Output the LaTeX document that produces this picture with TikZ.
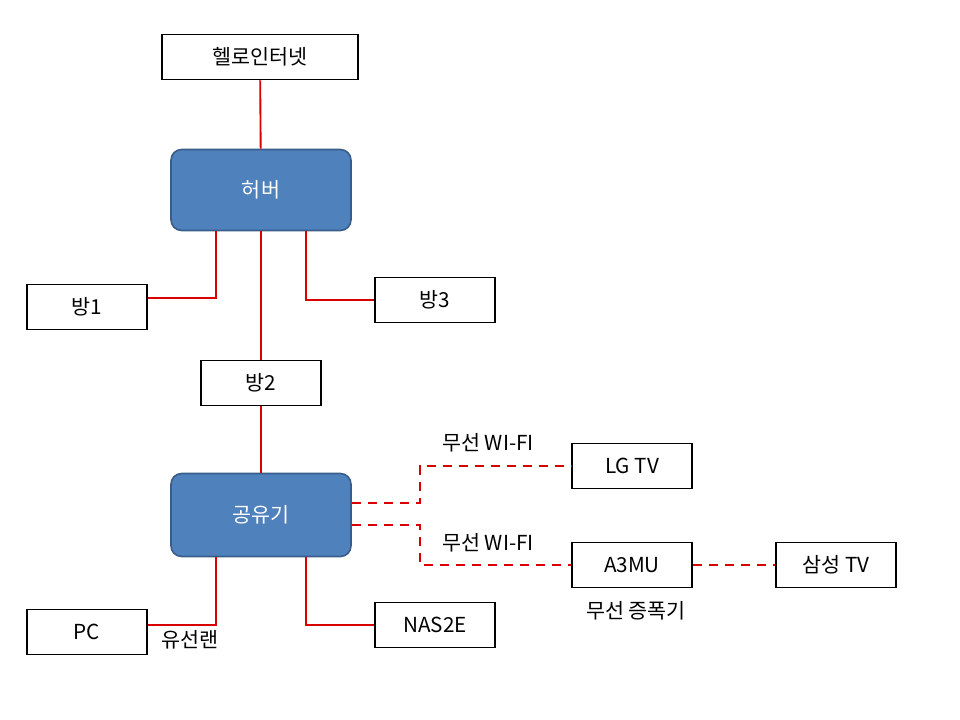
\documentclass[tikz,border=0pt]{standalone}
\usepackage{fontspec}
\setmainfont{Noto Sans CJK KR}
\usetikzlibrary{positioning}
\definecolor{hubfill}{HTML}{4F81BD}
\definecolor{hubline}{HTML}{385D8A}
\tikzset{
  box/.style = {draw, thick, line width = 1.2pt, minimum width = 120*0.75pt, minimum height = 45*0.75pt, inner sep = 0pt, font = \fontsize{15.5}{17}\selectfont},
  hub/.style = {draw = hubline, line width = 1.2pt, fill = hubfill, rounded corners = 8pt, text = white, minimum width = 180*0.75pt, minimum height = 81*0.75pt, font = \fontsize{15.5}{17}\selectfont},
  wire/.style = {red!85!black, line width = 1.4pt},
  air/.style = {wire, dashed, dash pattern = on 7pt off 5pt},
  lbl/.style = {font = \fontsize{15.5}{17}\selectfont}
}
\begin{document}
\begin{tikzpicture}[x = 0.75pt, y = -0.75pt]
  \useasboundingbox (0,0) rectangle (960,720);
  % top
  \node[box, minimum width = 196*0.75pt] (net) at (260,57) {헬로인터넷};
  \node[hub] (hub) at (261,190) {허버};
  \node[box] (room1) at (87,307) {방1};
  \node[box] (room3) at (435,300) {방3};
  \node[box] (room2) at (261,383) {방2};
  % router
  \node[hub, minimum height = 83*0.75pt] (router) at (261,515) {공유기};
  \node[box] (pc) at (87,632) {PC};
  \node[box] (nas) at (435,625) {NAS2E};
  \node[box] (lgtv) at (632,466) {LG TV};
  \node[box] (ext) at (632,565) {A3MU};
  \node[box] (sstv) at (836,565) {삼성 TV};
  % wires
  \draw[wire] (net) -- (hub);
  \draw[wire] (hub) -- (room2);
  \draw[wire] (room2) -- (router);
  \draw[wire] (hub.south -| 216,0) |- (room1.east |- 0,298);
  \draw[wire] (hub.south -| 306,0) |- (room3);
  \draw[wire] (router.south -| 216,0) |- (pc.east |- 0,625);
  \draw[wire] (router.south -| 306,0) |- (nas);
  % wireless
  \draw[air] (router.east |- 0,503) -- (420,503) |- (lgtv);
  \draw[air] (router.east |- 0,525) -- (420,525) |- (ext);
  \draw[air] (ext) -- (sstv);
  \node[lbl] (wifi1) at (488,443) {무선 WI-FI};
  \node[lbl] (wifi2) at (488,543) {무선 WI-FI};
  \node[lbl] (extlbl) at (636,611) {무선 증폭기};
  \node[lbl] (lan) at (190,640) {유선랜};
\end{tikzpicture}
\end{document}
